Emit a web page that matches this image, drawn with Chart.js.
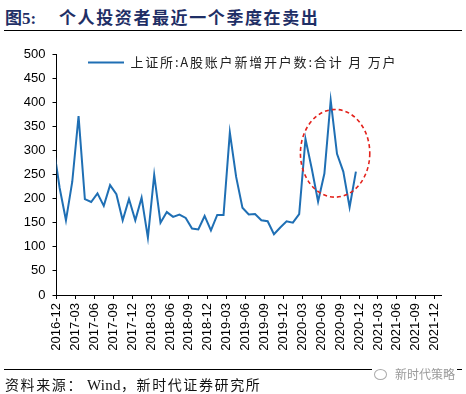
<!DOCTYPE html>
<html>
<head>
<meta charset="utf-8">
<script src="https://cdn.jsdelivr.net/npm/chart.js@4.4.1/dist/chart.umd.min.js"></script>
<style>
  body { margin: 0; background: #fff; }
  #wrap { position: relative; width: 466px; height: 394px; overflow: hidden; }
  #chart { position: absolute; left: 0; top: 0; }
  .title { position: absolute; top: 6px; font-family: "Noto Sans CJK SC", sans-serif; font-weight: bold; font-size: 17px; color: #1f2f66; line-height: 22px; white-space: nowrap; }
  .rule { position: absolute; left: 4px; width: 458px; height: 0; border-top: 1.5px solid #000; }
  .footer { position: absolute; left: 5px; top: 374px; font-family: "Noto Sans CJK SC", sans-serif; font-size: 14px; color: #111; letter-spacing: 1.6px; line-height: 20px; white-space: nowrap; }
  .footer .en { font-family: "Liberation Serif", serif; font-size: 15px; letter-spacing: 0.3px; margin-left: 4px; }
  .mark { position: absolute; left: 372px; top: 365px; font-family: "Noto Sans CJK SC", sans-serif; font-size: 12px; color: #9a9a9a; line-height: 18px; white-space: nowrap; background: #fff; padding: 0 2px; }
  .mark i { display: inline-block; width: 11px; height: 9px; border: 1px solid #aaa; border-radius: 50%; margin-right: 8px; vertical-align: -1px; }
</style>
</head>
<body>
<div id="wrap">
  <div class="title" style="left:5px;"><span style="font-family:'Noto Sans CJK SC';">图</span><span style="font-family:'Liberation Serif',serif;">5:</span></div>
  <div class="title" style="left:59px; letter-spacing:1.6px;">个人投资者最近一个季度在卖出</div>
  <div class="rule" style="top:30px;"></div>
  <canvas id="chart" width="466" height="394"></canvas>
  <div class="rule" style="top:369px;"></div>
  <div class="footer">资料来源：<span class="en">Wind</span>，新时代证券研究所</div>
  <div class="mark"><i></i>新时代策略</div>
</div>
<script>
// monthly series, first month sits just left of the axis and is clipped
const months = [
  '2016-11', '2016-12',
  '2017-01', '2017-02', '2017-03', '2017-04', '2017-05', '2017-06',
  '2017-07', '2017-08', '2017-09', '2017-10', '2017-11', '2017-12',
  '2018-01', '2018-02', '2018-03', '2018-04', '2018-05', '2018-06',
  '2018-07', '2018-08', '2018-09', '2018-10', '2018-11', '2018-12',
  '2019-01', '2019-02', '2019-03', '2019-04', '2019-05', '2019-06',
  '2019-07', '2019-08', '2019-09', '2019-10', '2019-11', '2019-12',
  '2020-01', '2020-02', '2020-03', '2020-04', '2020-05', '2020-06',
  '2020-07', '2020-08', '2020-09', '2020-10', '2020-11'
];
const newAccounts = [
  310, 222,
  155, 235, 371, 199, 193, 211,
  185, 228, 209, 155, 199, 155,
  202, 119, 249, 150, 172, 162,
  167, 160, 138, 136, 164, 134,
  166, 166, 337, 245, 181, 167,
  168, 155, 153, 126, 140, 153,
  150, 168, 324, 262, 194, 252,
  404, 293, 256, 182, 256
];
const xTickLabels = [
  '2016-12', '2017-03', '2017-06', '2017-09', '2017-12', '2018-03', '2018-06',
  '2018-09', '2018-12', '2019-03', '2019-06', '2019-09', '2019-12', '2020-03',
  '2020-06', '2020-09', '2020-12', '2021-03', '2021-06', '2021-09', '2021-12'
];
const yTicks = [0, 50, 100, 150, 200, 250, 300, 350, 400, 450, 500];
const seriesName = '上证所:A股账户新增开户数:合计 月 万户';

// axis runs in months from 2016-12; each point sits in the middle of its month
const monthNo = s => { const [y, m] = s.split('-').map(Number); return y * 12 + m - 1; };
const axisStart = monthNo(xTickLabels[0]);
const axisEnd = monthNo(xTickLabels[xTickLabels.length - 1]) + 1;

// dashed highlight ring, in data units (months, 万户)
const ring = { cx: 44.2, cy: 294, rx: 5.5, ry: 91 };

const ringPlugin = {
  id: 'ring',
  afterLayout(chart) {
    // legend sits inside the plot, a little in from the y axis
    const lg = chart.legend;
    const h = lg.height;
    lg.left = 86;
    lg.top = chart.chartArea.top;
    lg.bottom = lg.top + h;
    if (!lg._spaced) {
      const draw = lg.draw;
      lg.draw = function () {
        const ctx = this.ctx;
        ctx.save();
        ctx.letterSpacing = '1.8px';
        draw.apply(this, arguments);
        ctx.restore();
      };
      lg._spaced = true;
    }
  },
  afterDatasetsDraw(chart) {
    const xs = chart.scales.x, ys = chart.scales.y;
    const cx = xs.getPixelForValue(ring.cx);
    const cy = ys.getPixelForValue(ring.cy);
    const rx = Math.abs(xs.getPixelForValue(ring.cx + ring.rx) - cx);
    const ry = Math.abs(ys.getPixelForValue(ring.cy + ring.ry) - cy);
    const ctx = chart.ctx;
    ctx.save();
    ctx.strokeStyle = '#e3221c';
    ctx.lineWidth = 1.6;
    ctx.setLineDash([4, 3]);
    ctx.beginPath();
    ctx.ellipse(cx, cy, rx, ry, 0, 0, Math.PI * 2);
    ctx.stroke();
    ctx.restore();
  }
};

new Chart(document.getElementById('chart'), {
  type: 'line',
  data: {
    datasets: [{
      label: seriesName,
      data: months.map((m, i) => ({ x: monthNo(m) - axisStart + 0.5, y: newAccounts[i] })),
      borderColor: '#1f6fb4',
      backgroundColor: '#1f6fb4',
      borderWidth: 2,
      pointRadius: 0,
      tension: 0,
      clip: 0
    }]
  },
  options: {
    responsive: false,
    animation: false,
    devicePixelRatio: 1,
    layout: { padding: { left: 0, right: 25, top: 54, bottom: 0 } },
    plugins: {
      tooltip: { enabled: false },
      legend: {
        position: 'chartArea',
        align: 'start',
        labels: {
          font: { family: 'Noto Sans CJK SC', size: 13 },
          color: '#222',
          usePointStyle: true,
          pointStyle: 'line',
          pointStyleWidth: 36,
          padding: 2
        }
      }
    },
    scales: {
      x: {
        type: 'linear',
        min: 0,
        max: axisEnd - axisStart,
        afterFit: s => { s.height = 99; },
        grid: { drawOnChartArea: false, tickLength: 4, color: '#000' },
        border: { color: '#000', width: 1 },
        ticks: {
          stepSize: 3,
          includeBounds: false,
          autoSkip: false,
          minRotation: 90,
          maxRotation: 90,
          padding: 4,
          color: '#000',
          font: { family: 'Liberation Sans', size: 13 },
          callback: v => xTickLabels[v / 3]
        }
      },
      y: {
        min: yTicks[0],
        max: yTicks[yTicks.length - 1],
        afterFit: s => { s.width = 56.5; },
        afterBuildTicks: s => { s.ticks = yTicks.map(v => ({ value: v })); },
        grid: { drawOnChartArea: false, tickLength: 4, color: '#000' },
        border: { color: '#000', width: 1 },
        ticks: {
          padding: 7,
          color: '#000',
          font: { family: 'Liberation Sans', size: 13 }
        }
      }
    }
  },
  plugins: [ringPlugin]
});
</script>
</body>
</html>
